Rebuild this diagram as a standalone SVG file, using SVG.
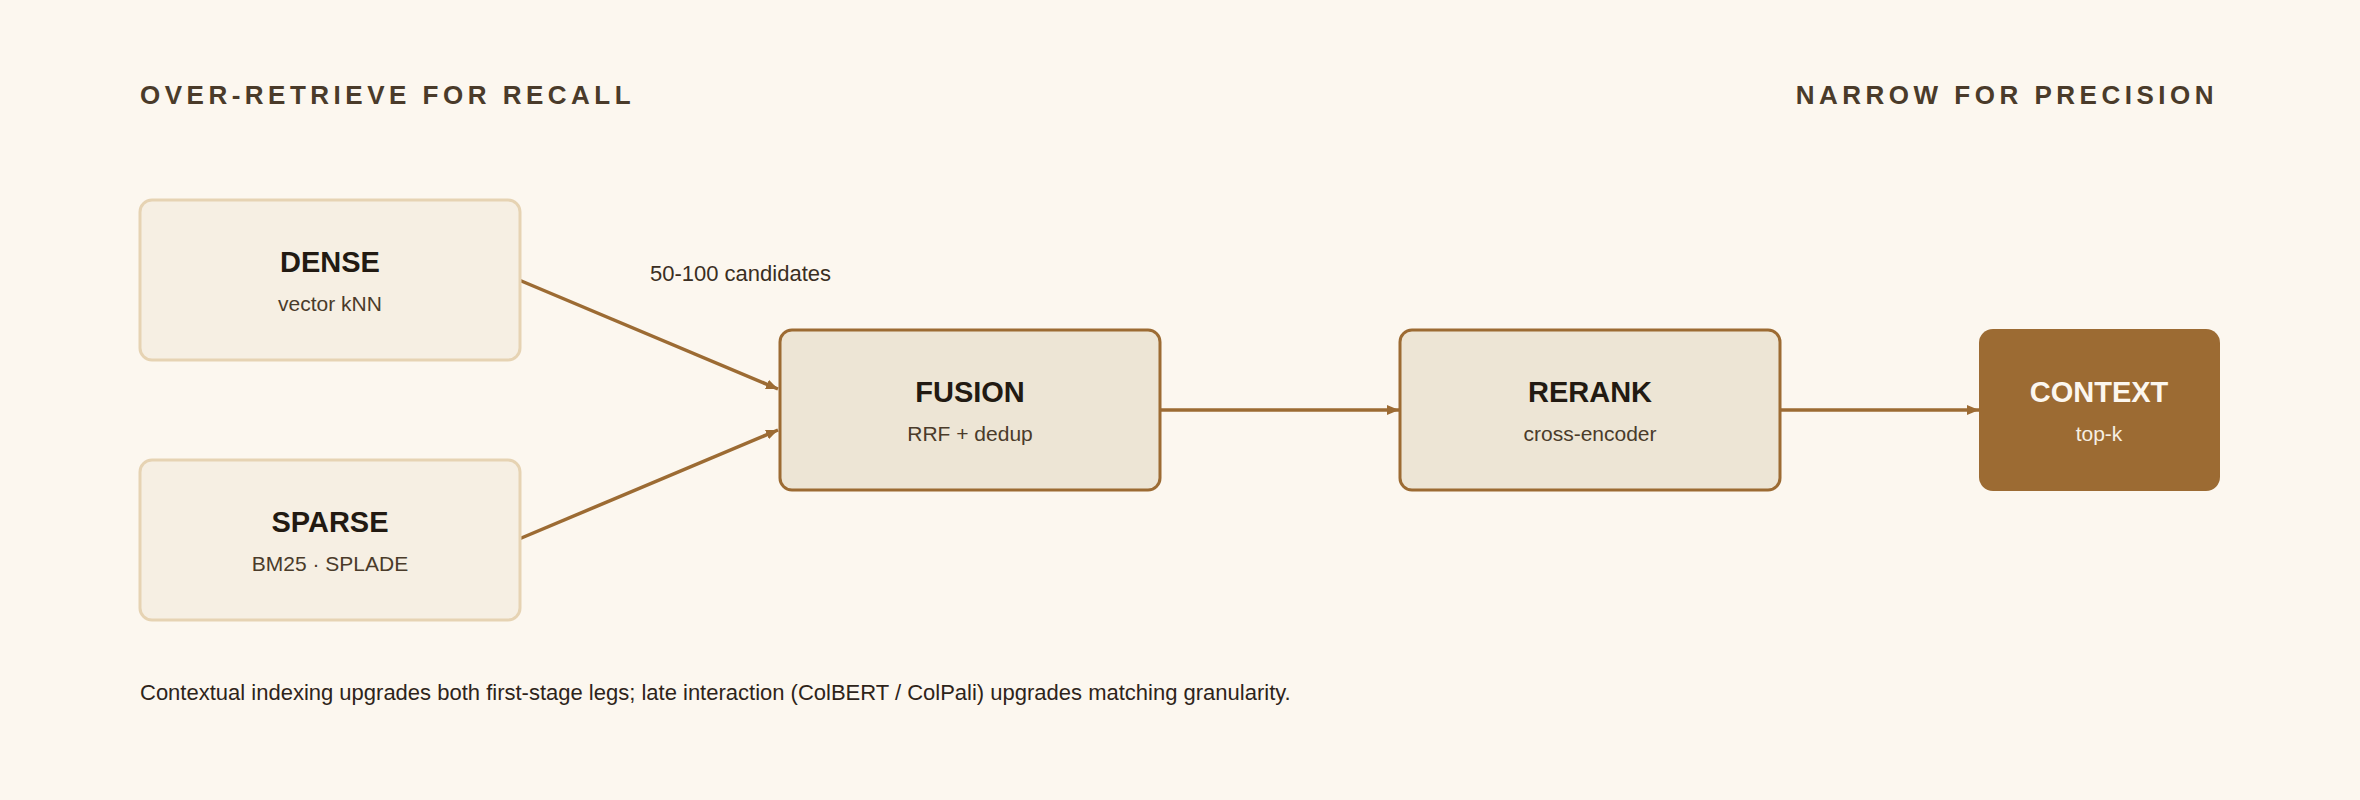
<svg xmlns="http://www.w3.org/2000/svg" width="2360" height="800" viewBox="0 0 2360 800">
<defs>
<marker id="ah" viewBox="0 0 10 10" refX="10" refY="5" markerWidth="12" markerHeight="10" markerUnits="userSpaceOnUse" orient="auto" preserveAspectRatio="none"><path d="M0,0 L10,5 L0,10 z" fill="#9c6b33"/></marker>
</defs>
<style>
text{font-family:"Liberation Sans",Arial,sans-serif}
.hd{font-size:26px;font-weight:bold;fill:#4a3b2a;letter-spacing:4.5px}
.t{font-size:29px;font-weight:bold;fill:#221a12;text-anchor:middle}
.s{font-size:21px;fill:#4a3b2a;text-anchor:middle}
.lite{fill:#f6efe3;stroke:#e6d3b3;stroke-width:3}
.mid{fill:#ede5d5;stroke:#9c6b33;stroke-width:3}
.dark{fill:#9c6b33}
.c{stroke:#9c6b33;stroke-width:3.5;fill:none}
</style>
<rect width="2360" height="800" fill="#fcf7ef"/>
<text class="hd" x="140" y="104">OVER-RETRIEVE FOR RECALL</text>
<text class="hd" x="2218" y="104" text-anchor="end">NARROW FOR PRECISION</text>
<g id="connectors">
<line class="c" x1="519" y1="280" x2="778" y2="389" marker-end="url(#ah)"/>
<line class="c" x1="519" y1="539" x2="778" y2="430" marker-end="url(#ah)"/>
<line class="c" x1="1160" y1="410" x2="1399" y2="410" marker-end="url(#ah)"/>
<line class="c" x1="1780" y1="410" x2="1979" y2="410" marker-end="url(#ah)"/>
<text x="650" y="281" style="font-size:22px;fill:#3a2e22">50-100 candidates</text>
</g>
<g id="dense"><rect class="lite" x="140" y="200" width="380" height="160" rx="12"/><text class="t" x="330" y="272">DENSE</text><text class="s" x="330" y="311">vector kNN</text></g>
<g id="sparse"><rect class="lite" x="140" y="460" width="380" height="160" rx="12"/><text class="t" x="330" y="532">SPARSE</text><text class="s" x="330" y="571">BM25 · SPLADE</text></g>
<g id="fusion"><rect class="mid" x="780" y="330" width="380" height="160" rx="12"/><text class="t" x="970" y="402">FUSION</text><text class="s" x="970" y="441">RRF + dedup</text></g>
<g id="rerank"><rect class="mid" x="1400" y="330" width="380" height="160" rx="12"/><text class="t" x="1590" y="402">RERANK</text><text class="s" x="1590" y="441">cross-encoder</text></g>
<g id="context"><rect class="dark" x="1979" y="329" width="241" height="162" rx="14"/><text class="t" x="2099" y="402" style="fill:#fcf7ef">CONTEXT</text><text class="s" x="2099" y="441" style="fill:#f6efe3">top-k</text></g>
<text x="140" y="700" style="font-size:22px;fill:#2e241a">Contextual indexing upgrades both first-stage legs; late interaction (ColBERT / ColPali) upgrades matching granularity.</text>
</svg>
